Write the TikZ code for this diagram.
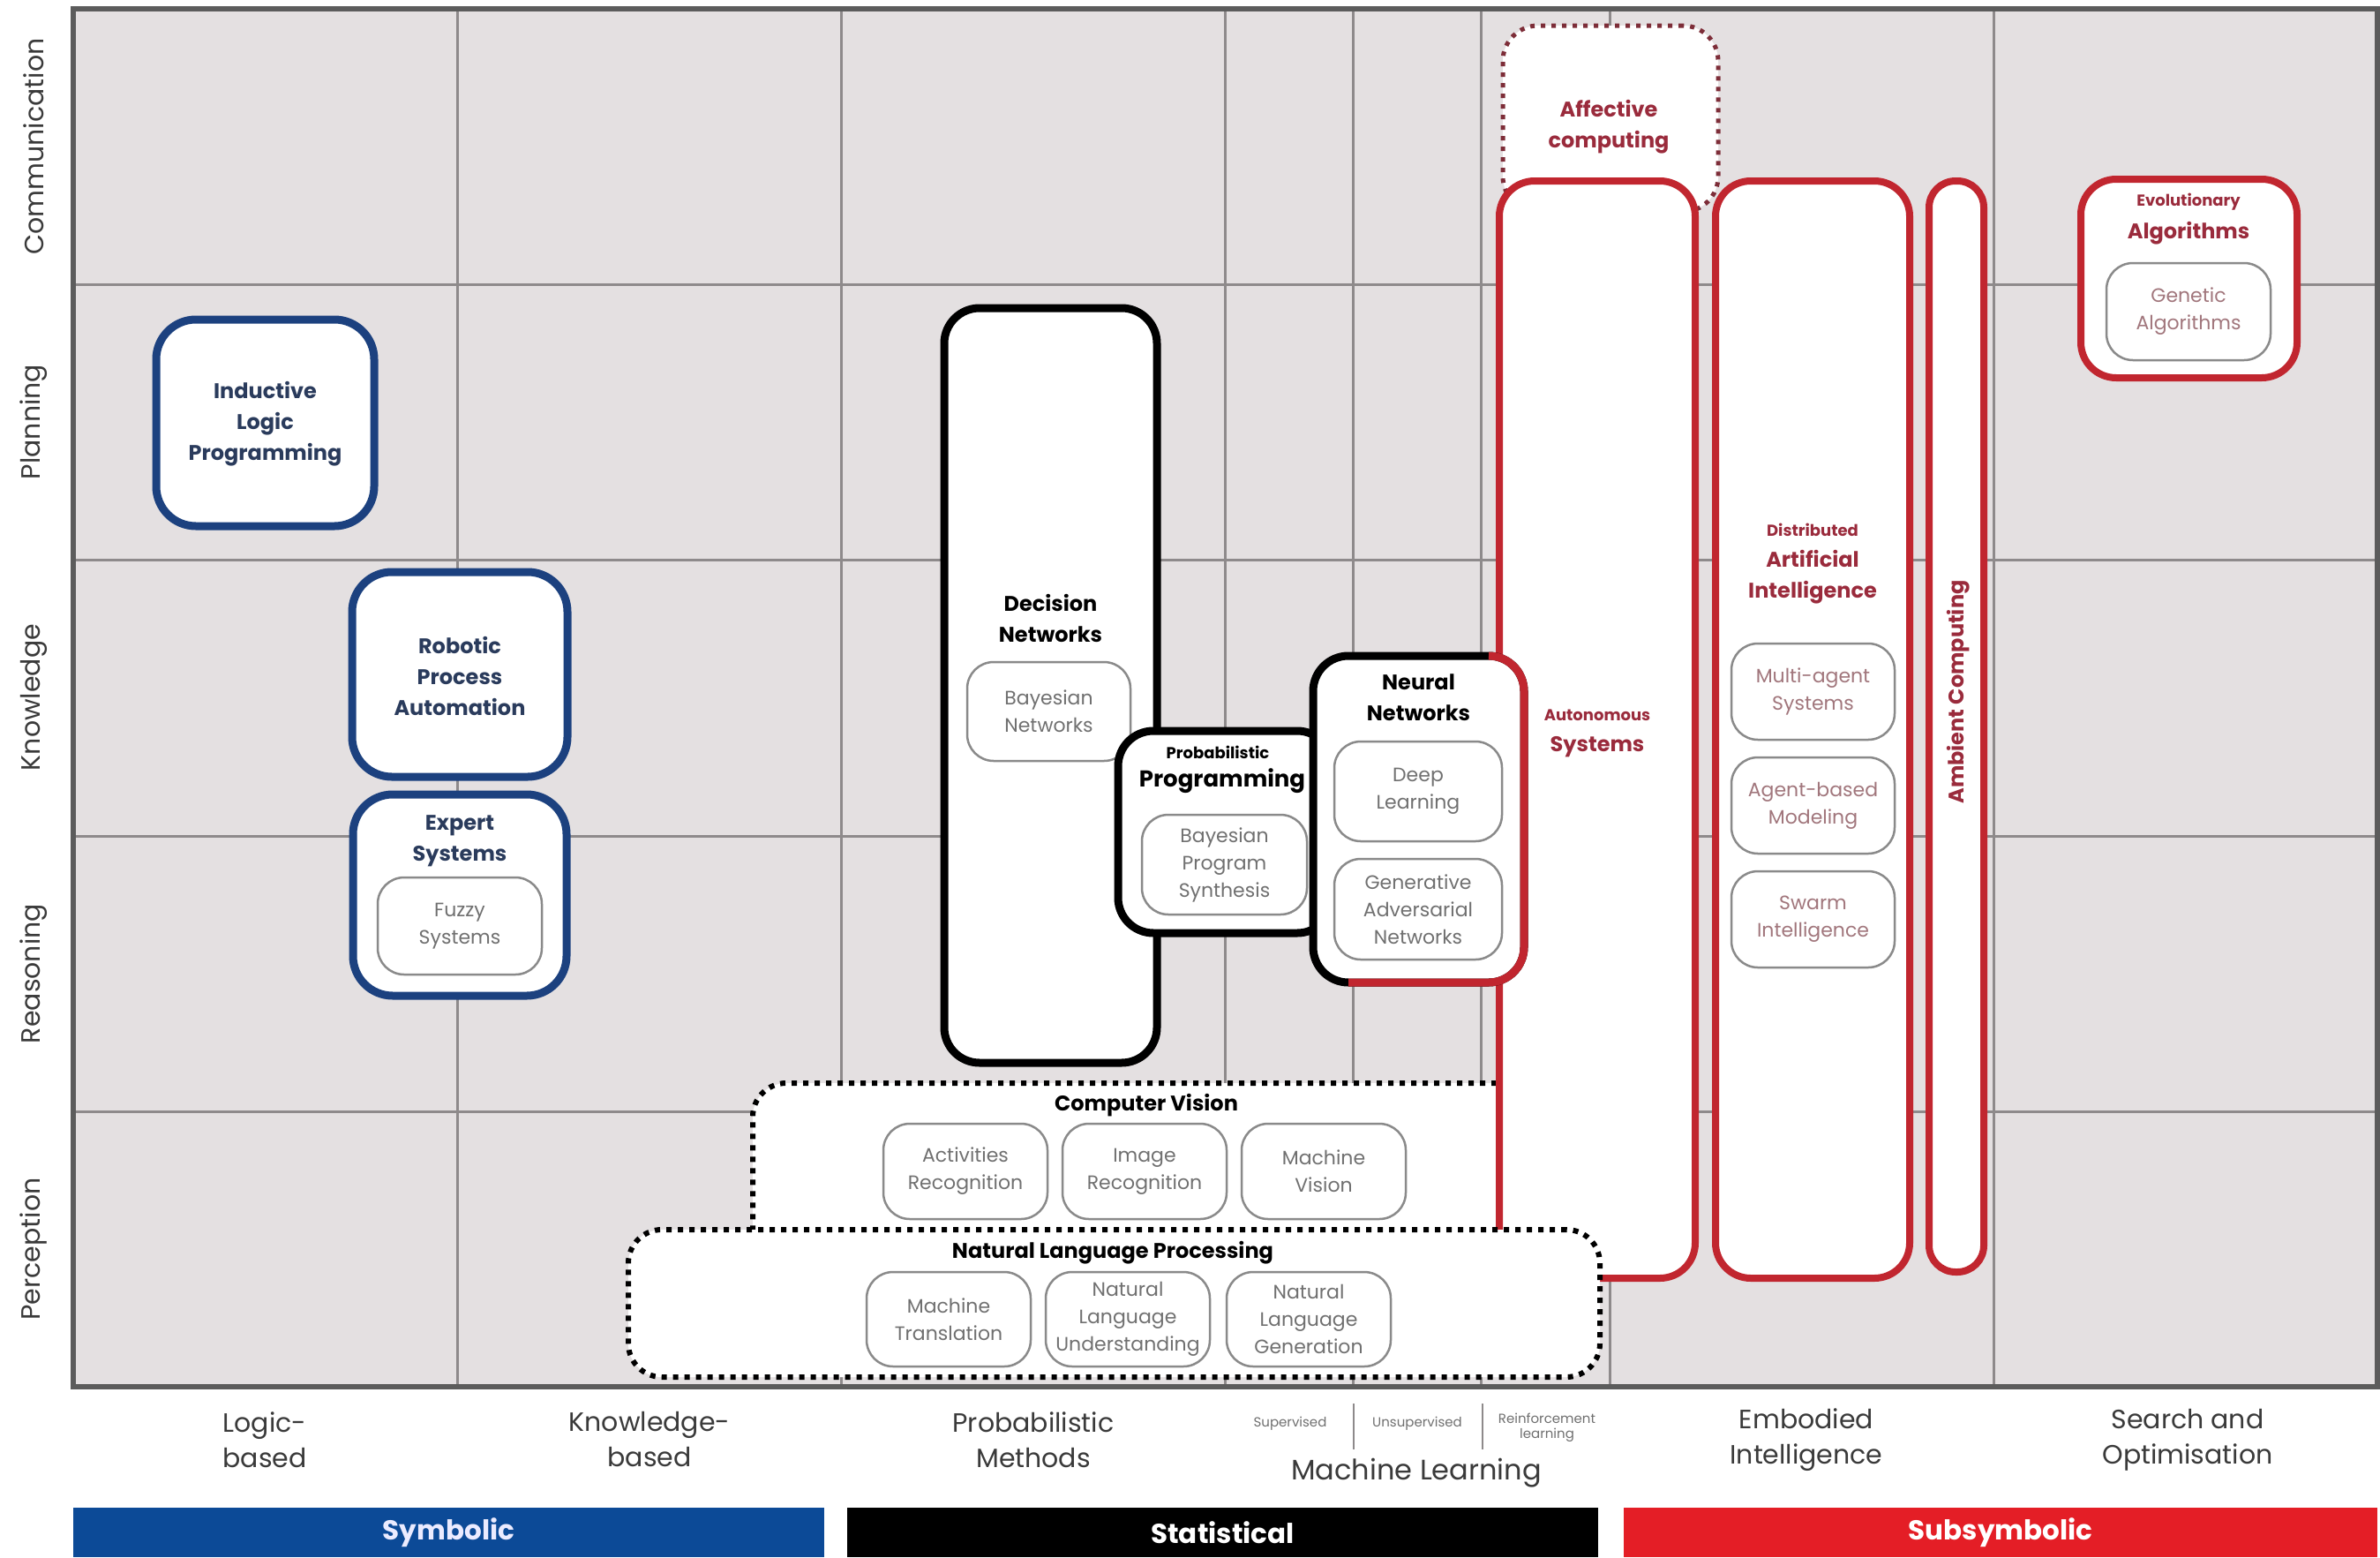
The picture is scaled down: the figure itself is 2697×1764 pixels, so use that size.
\documentclass[tikz,border=0pt]{standalone}
\usepackage{fontspec}
\setmainfont{Poppins}
\usetikzlibrary{calc}
\definecolor{blueC}{HTML}{1C417F}
\definecolor{blueT}{HTML}{2A3B5C}
\definecolor{redC}{HTML}{C1262F}
\definecolor{redT}{HTML}{9A2B3C}
\definecolor{gridF}{HTML}{E4E0E1}
\definecolor{gridL}{HTML}{8E8A8B}
\definecolor{frameC}{HTML}{5C5C5C}
\definecolor{subD}{HTML}{8A8A8A}
\definecolor{subT}{HTML}{707070}
\definecolor{redSubT}{HTML}{A1767C}
\definecolor{affDot}{HTML}{7D2D38}
\definecolor{symB}{HTML}{0C4A97}
\definecolor{subsB}{HTML}{E41E26}
\definecolor{axisT}{HTML}{3A3A3A}
\newcommand\mytitle{\bfseries\fontsize{24}{35}\selectfont}
\newcommand\mybig{\bfseries\fontsize{26}{35}\selectfont}
\newcommand\mysmall{\bfseries\fontsize{18}{20}\selectfont}
\newcommand\mysub{\fontsize{22}{31}\selectfont}
\newcommand\myaxis{\fontsize{30}{40}\selectfont}
\newcommand\mymlabel{\fontsize{32}{40}\selectfont}
\newcommand\mytiny{\fontsize{15}{17}\selectfont}
\newcommand\mybar{\bfseries\fontsize{31}{34}\selectfont}
\begin{document}
\begin{tikzpicture}[x=1pt,y=-1pt,
  box/.style={rectangle, inner sep=0pt, outer sep=0pt, fill=white},
  bluebox/.style={box, draw=blueC, line width=9pt, rounded corners=45pt},
  blackbox/.style={box, draw=black, line width=9pt, rounded corners=40pt},
  redbox/.style={box, draw=redC, line width=8pt, rounded corners=40pt},
  subbox/.style={box, draw=subD, line width=2.5pt, rounded corners=30pt, text=subT, font=\mysub, align=center},
  redsub/.style={subbox, text=redSubT},
  dotbox/.style={box, draw=black, line width=6pt, dash pattern=on 6pt off 7pt, rounded corners=38pt},
  ttl/.style={font=\mytitle, align=center, inner sep=0pt},
  axislbl/.style={font=\myaxis, text=axisT, align=center, inner sep=0pt},
  gridline/.style={draw=gridL, line width=3pt},
  barbox/.style={rectangle, inner sep=0pt, outer sep=0pt, minimum height=56pt, text=white, font=\mybar}
]
% page
\fill[white] (0,0) rectangle (2697,1764);
\useasboundingbox (0,0) rectangle (2697,1764);
% grid
\fill[gridF] (83,10) rectangle (2694,1571);
\foreach \gx in {518,953,1388,1533,1678,1824,2259} {\draw[gridline] (\gx,10) -- (\gx,1571);}
\foreach \gy in {322,634,947,1259} {\draw[gridline] (83,\gy) -- (2694,\gy);}
\draw[frameC, line width=6pt] (83,10) rectangle (2694,1571);

% left axis labels
\node[axislbl, rotate=90] (lcomm) at (38,166) {Communication};
\node[axislbl, rotate=90] (lplan) at (38,478) {Planning};
\node[axislbl, rotate=90] (lknow) at (38,790) {Knowledge};
\node[axislbl, rotate=90] (lreas) at (38,1103) {Reasoning};
\node[axislbl, rotate=90] (lperc) at (38,1415) {Perception};

% bottom labels
\node[axislbl] (blogic) at (300,1631) {Logic-\\based};
\node[axislbl] (bknow) at (736,1631) {Knowledge-\\based};
\node[axislbl] (bprob) at (1171,1631) {Probabilistic\\Methods};
\node[axislbl, font=\mymlabel] (bml) at (1605,1669) {Machine Learning};
\node[font=\mytiny, text=subT, inner sep=0pt] (bsup) at (1462,1613) {Supervised};
\node[font=\mytiny, text=subT, inner sep=0pt] (bunsup) at (1606,1613) {Unsupervised};
\node[font=\mytiny, text=subT, inner sep=0pt, align=center] (breinf) at (1753,1617) {Reinforcement\\learning};
\draw[gridL, line width=1.5pt] (1534,1590) -- (1534,1642);
\draw[gridL, line width=1.5pt] (1680,1590) -- (1680,1642);
\node[axislbl] (bemb) at (2047,1631) {Embodied\\Intelligence};
\node[axislbl] (bsearch) at (2479,1631) {Search and\\Optimisation};

% bars
\node[barbox, fill=symB, minimum width=851pt, text=blue!8] (symbolic) at (508.5,1736) {Symbolic};
\node[barbox, fill=black, minimum width=851pt] (statistical) at (1385.5,1736) {Statistical};
\node[barbox, fill=subsB, minimum width=854pt] (subsymbolic) at (2267,1736) {Subsymbolic};

% ---- symbolic boxes
\node[bluebox, minimum width=247pt, minimum height=234pt] (ilp) at (300.5,479) {};
\node[ttl, text=blueT] (ilpT) at (300.5,480) {Inductive\\Logic\\Programming};
\node[bluebox, minimum width=244pt, minimum height=232pt] (rpa) at (521,764) {};
\node[ttl, text=blueT] (rpaT) at (521,766) {Robotic\\Process\\Automation};
\node[bluebox, minimum width=242pt, minimum height=228pt] (expert) at (521,1014) {};
\node[ttl, text=blueT] (expertT) at (521,953) {Expert\\Systems};
\node[subbox, minimum width=186pt, minimum height=110pt] (fuzzy) at (521,1049) {Fuzzy\\Systems};

% ---- computer vision (under autonomous)
\node[dotbox, minimum width=907pt, minimum height=201pt] (cv) at (1306.5,1327.5) {};

% ---- subsymbolic red boxes
\node[box, draw=affDot, line width=5pt, dash pattern=on 5pt off 7pt, rounded corners=40pt, minimum width=244pt, minimum height=211pt] (aff) at (1825,134.5) {};
\node[ttl, text=redT] (affT) at (1823,144) {Affective\\computing};
\node[redbox, minimum width=222pt, minimum height=1243pt] (auto) at (1810,826.5) {};
\node[redbox, minimum width=220pt, minimum height=1243pt] (dai) at (2054,826.5) {};
\node[redbox, rounded corners=30pt, minimum width=62pt, minimum height=1236pt] (amb) at (2217,823) {};
\node[ttl, text=redT, rotate=90] (ambT) at (2219,784) {Ambient Computing};
\node[font=\mysmall, text=redT, inner sep=0pt] (autoS) at (1810,810) {Autonomous};
\node[ttl, text=redT] (autoT) at (1810,846) {Systems};
\node[font=\mysmall, text=redT, inner sep=0pt] (daiS) at (2054,600) {Distributed};
\node[ttl, text=redT] (daiT) at (2054,654) {Artificial\\Intelligence};
\node[redsub, minimum width=185pt, minimum height=109pt] (mas) at (2054.5,783.5) {Multi-agent\\Systems};
\node[redsub, minimum width=185pt, minimum height=109pt] (abm) at (2054.5,912.5) {Agent-based\\Modeling};
\node[redsub, minimum width=185pt, minimum height=109pt] (swarm) at (2054.5,1041.5) {Swarm\\Intelligence};
\node[redbox, minimum width=245pt, minimum height=225pt] (evo) at (2480.5,315.5) {};
\node[font=\mysmall, text=redT, inner sep=0pt] (evoS) at (2480,229) {Evolutionary};
\node[ttl, text=redT] (evoT) at (2480,264) {Algorithms};
\node[redsub, minimum width=186pt, minimum height=110pt] (gen) at (2480,353) {Genetic\\Algorithms};

% ---- statistical boxes
\node[blackbox, minimum width=241pt, minimum height=855pt] (dec) at (1190.5,776.5) {};
\node[ttl] (decT) at (1190.5,700) {Decision\\Networks};
\node[subbox, minimum width=185pt, minimum height=112pt] (bayes) at (1188.5,806) {Bayesian\\Networks};
\node[blackbox, minimum width=243pt, minimum height=229pt] (pp) at (1388.5,942.5) {};
\node[font=\mysmall, inner sep=0pt] (ppS) at (1380,852) {Probabilistic};
\node[ttl, font=\mybig] (ppT) at (1385,885) {Programming};
\node[subbox, minimum width=187pt, minimum height=113pt] (bps) at (1387.5,979.5) {Bayesian\\Program\\Synthesis};
\node[blackbox, minimum width=239pt, minimum height=370pt] (nn) at (1607.5,928) {};
\draw[redC, line width=9pt, rounded corners=40pt] ($(nn.north east)+(-40,0)$) -- (nn.north east) -- (nn.south east) -- ($(nn.south west)+(40,0)$);
\node[ttl] (nnT) at (1607.5,790) {Neural\\Networks};
\node[subbox, minimum width=190pt, minimum height=113pt] (deep) at (1607,896.5) {Deep\\Learning};
\node[subbox, minimum width=190pt, minimum height=114pt] (gan) at (1607,1030) {Generative\\Adversarial\\Networks};

% ---- computer vision contents
\node[ttl] (cvT) at (1299,1252) {Computer Vision};
\node[subbox, minimum width=186pt, minimum height=108pt] (act) at (1094,1327) {Activities\\Recognition};
\node[subbox, minimum width=186pt, minimum height=108pt] (img) at (1297,1327) {Image\\Recognition};
\node[subbox, minimum width=186pt, minimum height=108pt] (mv) at (1500,1327) {Machine\\Vision};

% ---- NLP (over autonomous)
\node[dotbox, minimum width=1101pt, minimum height=167pt] (nlp) at (1262.5,1476.5) {};
\node[ttl] (nlpT) at (1261,1419) {Natural Language Processing};
\node[subbox, minimum width=186pt, minimum height=107pt] (mt) at (1075,1494.5) {Machine\\Translation};
\node[subbox, minimum width=186pt, minimum height=107pt] (nlu) at (1278,1494.5) {Natural\\Language\\Understanding};
\node[subbox, minimum width=186pt, minimum height=107pt] (nlg) at (1483,1494.5) {Natural\\Language\\Generation};
\end{tikzpicture}
\end{document}
